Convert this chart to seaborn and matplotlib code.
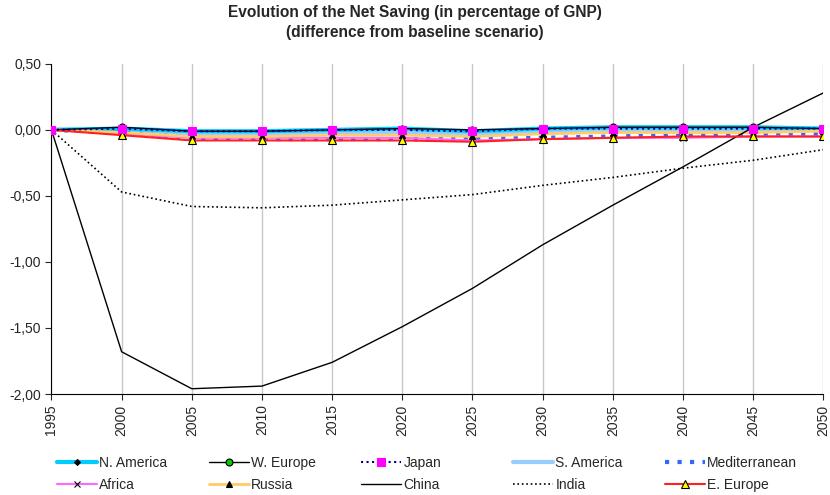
import numpy as np
import pandas as pd
import seaborn as sns
import matplotlib.pyplot as plt
from matplotlib.ticker import FuncFormatter

# datos
years = [1995, 2000, 2005, 2010, 2015, 2020, 2025, 2030, 2035, 2040, 2045, 2050]
n_america = [0, 0.01, -0.01, -0.01, 0.00, 0.01, -0.01, 0.01, 0.02, 0.02, 0.02, 0.01]
w_europe = [0, 0.02, -0.01, -0.01, 0.00, 0.01, 0.00, 0.01, 0.02, 0.02, 0.02, 0.01]
japan = [0, 0.01, -0.01, -0.01, 0.00, 0.00, -0.01, 0.01, 0.01, 0.01, 0.01, 0.01]
s_america = [0, 0.00, -0.03, -0.03, -0.02, -0.02, -0.03, -0.01, 0.00, 0.00, 0.00, 0.00]
mediterranean = [0, -0.02, -0.06, -0.07, -0.07, -0.07, -0.07, -0.06, -0.05, -0.04, -0.03, -0.03]
africa = [0, -0.03, -0.06, -0.06, -0.06, -0.06, -0.08, -0.07, -0.06, -0.06, -0.05, -0.05]
russia = [0, -0.02, -0.05, -0.05, -0.04, -0.04, -0.05, -0.03, -0.02, -0.02, -0.02, -0.01]
china = [0, -1.68, -1.96, -1.94, -1.76, -1.49, -1.20, -0.87, -0.57, -0.28, 0.02, 0.28]
india = [0, -0.47, -0.58, -0.59, -0.57, -0.53, -0.49, -0.42, -0.36, -0.29, -0.23, -0.15]
e_europe = [0, -0.04, -0.08, -0.08, -0.08, -0.08, -0.09, -0.07, -0.06, -0.05, -0.05, -0.05]

series = {
    'N. America': n_america, 'W. Europe': w_europe, 'Japan': japan,
    'S. America': s_america, 'Mediterranean': mediterranean, 'Africa': africa,
    'Russia': russia, 'China': china, 'India': india, 'E. Europe': e_europe,
}
datos = pd.DataFrame([(r, y, v) for r, vals in series.items() for y, v in zip(years, vals)],
                     columns=['region', 'year', 'value'])

# estilos de cada serie
estilos = {
    'N. America': dict(color='#00CCFF', lw=3, ls='-', marker='D', ms=3, mfc='black', mec='black', z=3),
    'W. Europe': dict(color='black', lw=1, ls='-', marker='o', ms=5, mfc='#00CC00', mec='black', z=4),
    'Japan': dict(color='#000080', lw=1.5, ls=':', marker='s', ms=6, mfc='#FF00FF', mec='#FF00FF', z=6),
    'S. America': dict(color='#99CCFF', lw=3, ls='-', marker=None, ms=0, mfc='none', mec='none', z=2),
    'Mediterranean': dict(color='#3366FF', lw=3, ls=(0, (1, 2)), marker=None, ms=0, mfc='none', mec='none', z=2),
    'Africa': dict(color='#FF66FF', lw=1.5, ls='-', marker='x', ms=5, mfc='black', mec='black', z=3),
    'Russia': dict(color='#FFCC66', lw=2, ls='-', marker='^', ms=5, mfc='black', mec='black', z=3),
    'China': dict(color='black', lw=1, ls='-', marker=None, ms=0, mfc='none', mec='none', z=5),
    'India': dict(color='black', lw=1.2, ls=':', marker=None, ms=0, mfc='none', mec='none', z=5),
    'E. Europe': dict(color='#FF2020', lw=1.5, ls='-', marker='^', ms=6, mfc='#FFFF00', mec='black', z=5),
}

sns.set_style('white')
plt.rcParams['font.family'] = ['Liberation Sans', 'DejaVu Sans']

fig, ax = plt.subplots(figsize=(8.3, 4.95), dpi=100)
fig.subplots_adjust(left=0.062, right=0.992, top=0.871, bottom=0.204)

for region in series:
    e = estilos[region]
    sns.lineplot(data=datos[datos.region == region], x='year', y='value', ax=ax,
                 color=e['color'], linewidth=e['lw'], linestyle=e['ls'],
                 marker=e['marker'], markersize=e['ms'], markerfacecolor=e['mfc'],
                 markeredgecolor=e['mec'], markeredgewidth=0.8, label=region, zorder=e['z'])

ax.set_xlim(1995, 2050)
ax.set_ylim(-2.0, 0.5)
ax.set_xticks(years)
ax.xaxis.set_major_formatter(FuncFormatter(lambda v, p: f'{v:.0f}'))
ax.tick_params(axis='x', labelrotation=90, labelsize=10, length=4, bottom=True, direction='out')
ax.set_yticks([-2.0, -1.5, -1.0, -0.5, 0.0, 0.5])
ax.yaxis.set_major_formatter(FuncFormatter(lambda v, p: f'{v:.2f}'.replace('.', ',')))
ax.tick_params(axis='y', labelsize=10, length=4, left=True, direction='out')
ax.set_xlabel('')
ax.set_ylabel('')

ax.grid(axis='x', color='#C8C8C8', linewidth=1)
ax.set_axisbelow(True)
ax.spines['right'].set_visible(False)
ax.spines['top'].set_visible(False)
ax.spines['left'].set_color('black')
ax.spines['bottom'].set_color('black')

fig.text(0.5, 1 - 13 / 495, 'Evolution of the Net Saving (in percentage of GNP)',
         ha='center', va='center', fontsize=11.2, fontweight='bold')
fig.text(0.5, 1 - 33 / 495, '(difference from baseline scenario)',
         ha='center', va='center', fontsize=11.2, fontweight='bold')

# leyenda: una por columna para que queden equiespaciadas
handles, labels = ax.get_legend_handles_labels()
ax.get_legend().remove()
h = dict(zip(labels, handles))
columnas = [['N. America', 'Africa'], ['W. Europe', 'Russia'], ['Japan', 'China'],
            ['S. America', 'India'], ['Mediterranean', 'E. Europe']]
x_cols = [57, 209, 361, 513, 665]
for col, xc in zip(columnas, x_cols):
    leg = fig.legend([h[c] for c in col], col, loc='upper left',
                     bbox_to_anchor=(xc / 830, 1 - 456 / 495), frameon=False,
                     fontsize=10, handlelength=2.9, handletextpad=0.15,
                     labelspacing=0.6, borderpad=0, borderaxespad=0)

plt.savefig('out.png', dpi=100)
